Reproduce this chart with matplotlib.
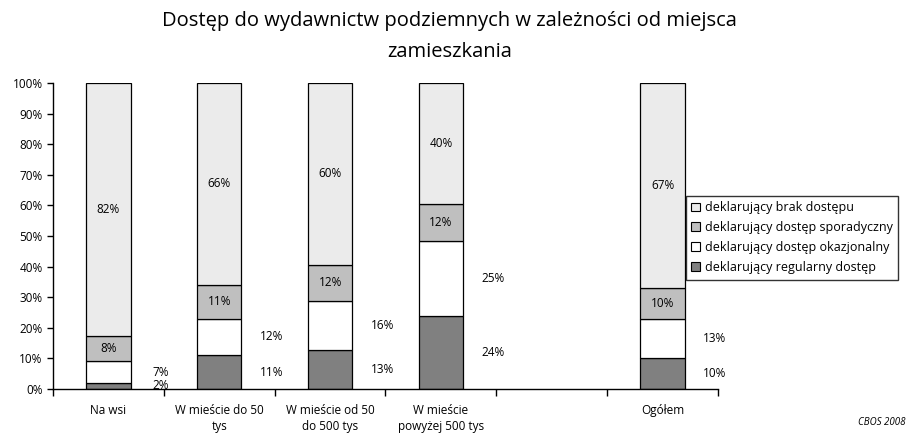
import matplotlib
matplotlib.use("Agg")
import matplotlib.pyplot as plt
import numpy as np
from matplotlib.patches import Patch

plt.rcParams['font.family'] = ['Open Sans', 'DejaVu Sans']

categories = ["Na wsi", "W mieście do 50\ntys", "W mieście od 50\ndo 500 tys",
              "W mieście\npowyżej 500 tys", "", "Ogółem"]
regular = [2, 11, 13, 24, None, 10]
occasional = [7, 12, 16, 25, None, 13]
sporadic = [8, 11, 12, 12, None, 10]
none_ = [82, 66, 60, 40, None, 67]

series_names = ["deklarujący brak dostępu", "deklarujący dostęp sporadyczny",
                "deklarujący dostęp okazjonalny", "deklarujący regularny dostęp"]
colors = {"regular": "#808080", "occasional": "#FFFFFF", "sporadic": "#BFBFBF", "none": "#EBEBEB"}

fig = plt.figure(figsize=(9.08, 4.33), dpi=100)
ax = fig.add_axes([0.0584, 0.1016, 0.7323, 0.7067])

width = 0.4
for i, cat in enumerate(categories):
    if regular[i] is None:
        continue
    vals = [regular[i], occasional[i], sporadic[i], none_[i]]
    cols = [colors["regular"], colors["occasional"], colors["sporadic"], colors["none"]]
    total = sum(vals)
    scaled = [v * 100.0 / total for v in vals]
    bottom = 0
    mids = []
    for v, c in zip(scaled, cols):
        ax.bar(i, v, width, bottom=bottom, color=c, edgecolor="black", linewidth=0.9, zorder=2)
        mids.append(bottom + v / 2)
        bottom += v
    ax.text(i + 0.47, mids[0], f"{regular[i]}%", ha="center", va="center", fontsize=8.5)
    ax.text(i + 0.47, mids[1], f"{occasional[i]}%", ha="center", va="center", fontsize=8.5)
    ax.text(i, mids[2], f"{sporadic[i]}%", ha="center", va="center", fontsize=8.5)
    ax.text(i, mids[3], f"{none_[i]}%", ha="center", va="center", fontsize=8.5)

ax.set_xlim(-0.5, len(categories) - 0.5)
ax.set_ylim(0, 100)
ax.set_yticks(np.arange(0, 101, 10))
ax.set_yticklabels([f"{v}%" for v in range(0, 101, 10)], fontsize=8.5)
ax.set_xticks(np.arange(len(categories)))
ax.set_xticklabels(categories, fontsize=8.5, linespacing=1.3)
ax.tick_params(axis="x", length=0, pad=11)
ax.set_xticks(np.arange(-0.5, len(categories), 1), minor=True)
ax.tick_params(axis="x", which="minor", length=5, width=1)
ax.tick_params(axis="y", length=4, width=1)
for s in ["top", "right"]:
    ax.spines[s].set_visible(False)
ax.spines["left"].set_linewidth(1)
ax.spines["bottom"].set_linewidth(1)

fig.text(0.495, 0.915, "Dostęp do wydawnictw podziemnych w zależności od miejsca\nzamieszkania",
         ha="center", va="center", fontsize=14.5, linespacing=1.75)

handles = [Patch(facecolor=colors["none"], edgecolor="black", linewidth=0.8),
           Patch(facecolor=colors["sporadic"], edgecolor="black", linewidth=0.8),
           Patch(facecolor=colors["occasional"], edgecolor="black", linewidth=0.8),
           Patch(facecolor=colors["regular"], edgecolor="black", linewidth=0.8)]
leg = fig.legend(handles, series_names, loc="upper left", bbox_to_anchor=(0.755, 0.548),
                 fontsize=9, frameon=True, fancybox=False, edgecolor="black",
                 handlelength=0.7, handleheight=0.7, handletextpad=0.4,
                 labelspacing=0.55, borderpad=0.45, borderaxespad=0)
leg.get_frame().set_linewidth(1)

fig.text(0.997, 0.012, "CBOS 2008", fontsize=7, style="italic", ha="right", va="bottom")

fig.savefig("out.png", dpi=100)
